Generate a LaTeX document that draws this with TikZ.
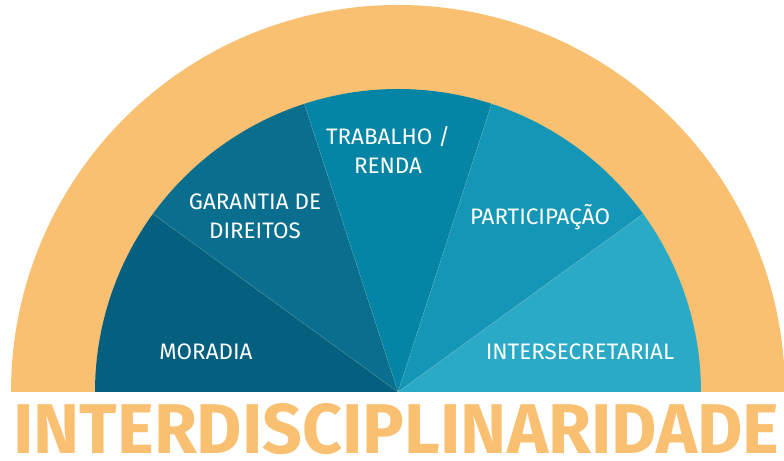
\documentclass[tikz,border=0pt]{standalone}
\usepackage{fontspec}
\setmainfont{Fira Sans}
\usetikzlibrary{positioning}

\definecolor{arco}{HTML}{F9C072}
\definecolor{moradia}{HTML}{05607F}
\definecolor{garantia}{HTML}{0A6E8E}
\definecolor{trabalho}{HTML}{0585A5}
\definecolor{participacao}{HTML}{1497B7}
\definecolor{intersec}{HTML}{2BAAC8}

\tikzset{
  rotulo/.style={text=white,font=\fontsize{22.5}{29}\selectfont,align=center,inner sep=0pt},
  divisa/.style={draw=white,draw opacity=0.18,line width=0.5bp}
}

\begin{document}
\begin{tikzpicture}[x=1bp,y=1bp]
\useasboundingbox (0,0) rectangle (784,461);
\coordinate (c) at (398,69);

% arco externo
\fill[arco] (c) -- ++(180:387) arc[start angle=180,end angle=0,radius=387] -- cycle;

% setores
\fill[moradia]      (c) -- ++(180:303) arc[start angle=180,end angle=144,radius=303] -- cycle;
\fill[garantia]     (c) -- ++(144:303) arc[start angle=144,end angle=108,radius=303] -- cycle;
\fill[trabalho]     (c) -- ++(108:303) arc[start angle=108,end angle=72,radius=303] -- cycle;
\fill[participacao] (c) -- ++(72:303)  arc[start angle=72,end angle=36,radius=303] -- cycle;
\fill[intersec]     (c) -- ++(36:303)  arc[start angle=36,end angle=0,radius=303] -- cycle;
\draw[divisa] (c) -- ++(144:303);
\draw[divisa] (c) -- ++(108:303);
\draw[divisa] (c) -- ++(72:303);
\draw[divisa] (c) -- ++(36:303);

\node (mor) [rotulo] at (206,109) {MORADIA};
\node (gar) [rotulo] at (255,245) {GARANTIA DE\\DIREITOS};
\node (tra) [rotulo] at (388,311) {TRABALHO /\\RENDA};
\node (par) [rotulo] at (540,244) {PARTICIPAÇÃO};
\node (int) [rotulo] at (580,109) {INTERSECRETARIAL};

\node (titulo) [anchor=south west,inner sep=0pt,text=arco] at (13,6)
  {\resizebox{766bp}{50bp}{\bfseries INTERDISCIPLINARIDADE}};
\end{tikzpicture}
\end{document}
